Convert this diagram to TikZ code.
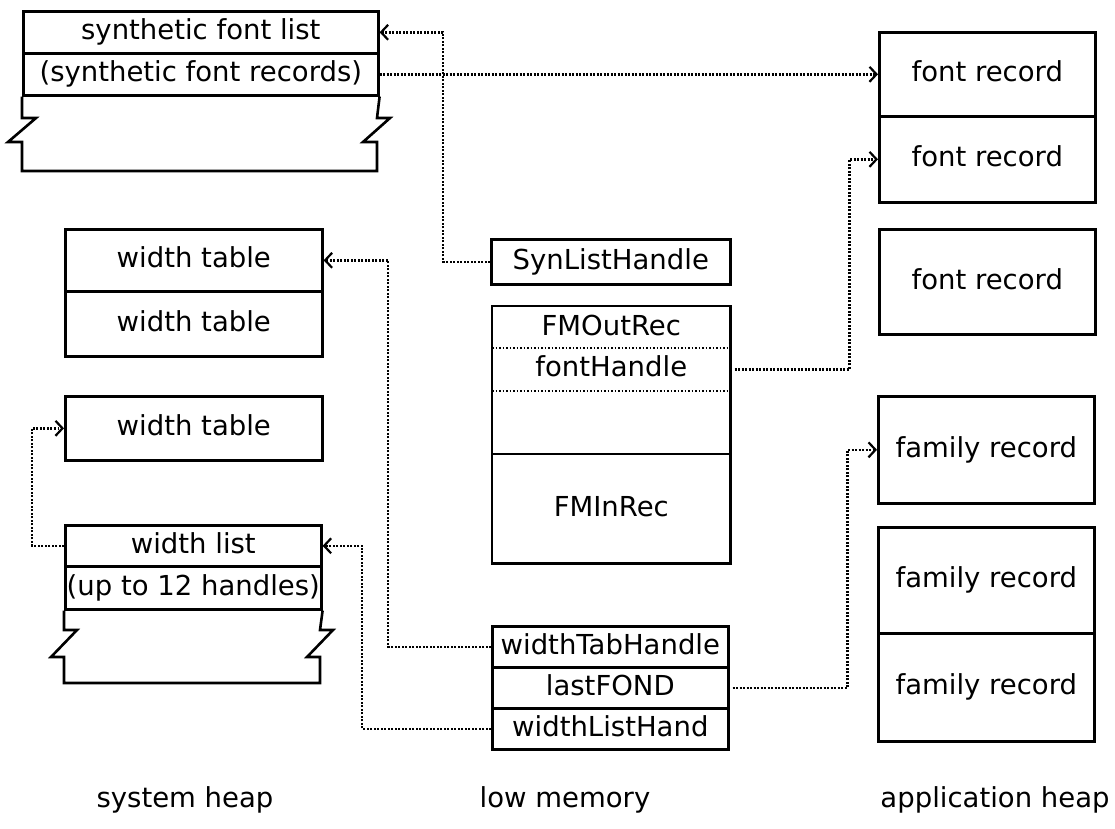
\documentclass[tikz,border=0pt]{standalone}
\usepackage{fontspec}
\setmainfont{DejaVu Sans}
\usetikzlibrary{arrows.meta}
\tikzset{
  cell/.style={draw, line width=2.6pt, inner sep=0pt, anchor=north west,
    text height=20pt, text depth=5pt, font=\fontsize{27.5}{31}\selectfont},
  plaincell/.style={cell, draw=none},
  lbl/.style={inner sep=0pt, text height=20pt, text depth=5pt, font=\fontsize{27.5}{31}\selectfont},
  outline/.style={line width=2.6pt, line join=miter},
  conn/.style={line width=2.5pt, dash pattern=on 1.9pt off 1.6pt,
    -{Straight Barb[length=7pt,width=15pt,line width=2.2pt]}},
  dotsep/.style={line width=2.2pt, dash pattern=on 1.9pt off 1.6pt}
}
\begin{document}
\begin{tikzpicture}[x=1pt,y=-1pt]
\useasboundingbox (0,0) rectangle (1115,828);
% ---------- system heap ----------
\node[cell, minimum width=355pt, minimum height=42pt] (sfl) at (22,10) {synthetic font list};
\node[cell, minimum width=355pt, minimum height=42pt] (sfr) at (22,52) {(synthetic font records)};
\draw[outline] (sfr.south west) -- (22,118) -- (36,118) -- (8,142) -- (22,142) -- (22,171)
  -- (377,171) -- (377,142) -- (363,142) -- (390,118) -- (377,118) -- (sfr.south east);

\node[cell, minimum width=257pt, minimum height=62pt] (wt1) at (64,228) {width table};
\node[cell, minimum width=257pt, minimum height=65pt] (wt2) at (64,290) {width table};

\node[cell, minimum width=257pt, minimum height=64pt] (wt3) at (64,395) {width table};

\node[cell, minimum width=256pt, minimum height=41pt] (wl) at (64,524) {width list};
\node[cell, minimum width=256pt, minimum height=43pt] (wlr) at (64,565) {(up to 12 handles)};
\draw[outline] (wlr.south west) -- (64,630) -- (77,630) -- (51,657) -- (64,657) -- (64,683)
  -- (320,683) -- (320,657) -- (307,657) -- (333,630) -- (320,630) -- (wlr.south east);

% ---------- low memory ----------
\node[cell, minimum width=239pt, minimum height=45pt] (syn) at (490,238) {SynListHandle};

\node[plaincell, minimum width=236pt, minimum height=42pt] (fmout) at (492,306) {FMOutRec};
\node[plaincell, minimum width=236pt, minimum height=40pt] (fh) at (492,348) {fontHandle};
\node[plaincell, minimum width=236pt, minimum height=66pt] (fmgap) at (492,388) {};
\node[plaincell, minimum width=236pt, minimum height=107pt] (fmin) at (492,454) {FMInRec};
\draw[outline] (fmout.north west) rectangle (fmin.south east);
\draw[outline] (fmin.north west) -- (fmin.north east);
\draw[dotsep] (fh.north west) -- (fh.north east);
\draw[dotsep] (fh.south west) -- (fh.south east);

\node[cell, minimum width=236pt, minimum height=41pt] (wth) at (491,625) {widthTabHandle};
\node[cell, minimum width=236pt, minimum height=41pt] (lf) at (491,666) {lastFOND};
\node[cell, minimum width=236pt, minimum height=41pt] (wlh) at (491,707) {widthListHand};

% ---------- application heap ----------
\node[cell, minimum width=216pt, minimum height=84pt] (fr1) at (878,31) {font record};
\node[cell, minimum width=216pt, minimum height=86pt] (fr2) at (878,115) {font record};
\node[cell, minimum width=216pt, minimum height=105pt] (fr3) at (878,228) {font record};

\node[cell, minimum width=216pt, minimum height=107pt] (fam1) at (877,395) {family record};
\node[cell, minimum width=216pt, minimum height=106pt] (fam2) at (877,526) {family record};
\node[cell, minimum width=216pt, minimum height=108pt] (fam3) at (877,632) {family record};

% ---------- labels ----------
\node[lbl] (lsys) at (185,800) {system heap};
\node[lbl] (llow) at (565,800) {low memory};
\node[lbl] (lapp) at (995,800) {application heap};

% ---------- connectors ----------
\draw[conn] (syn.west) -- ++(-47,0) |- (sfl.east);
\draw[conn] (sfr.east) -- (sfr.east -| fr1.west);
\draw[conn] (fh.east) ++(4,0) -- ++(115,0) |- (fr2.west);
\draw[conn] (wth.west) -- ++(-103,0) |- (wt1.east);
\draw[conn] (wlh.west) -- ++(-129,0) |- (wl.east);
\draw[conn] (wl.west) -- ++(-32,0) |- (wt3.west);
\draw[conn] (lf.east) ++(3,0) -- ++(115,0) |- (fam1.west);
\end{tikzpicture}
\end{document}
